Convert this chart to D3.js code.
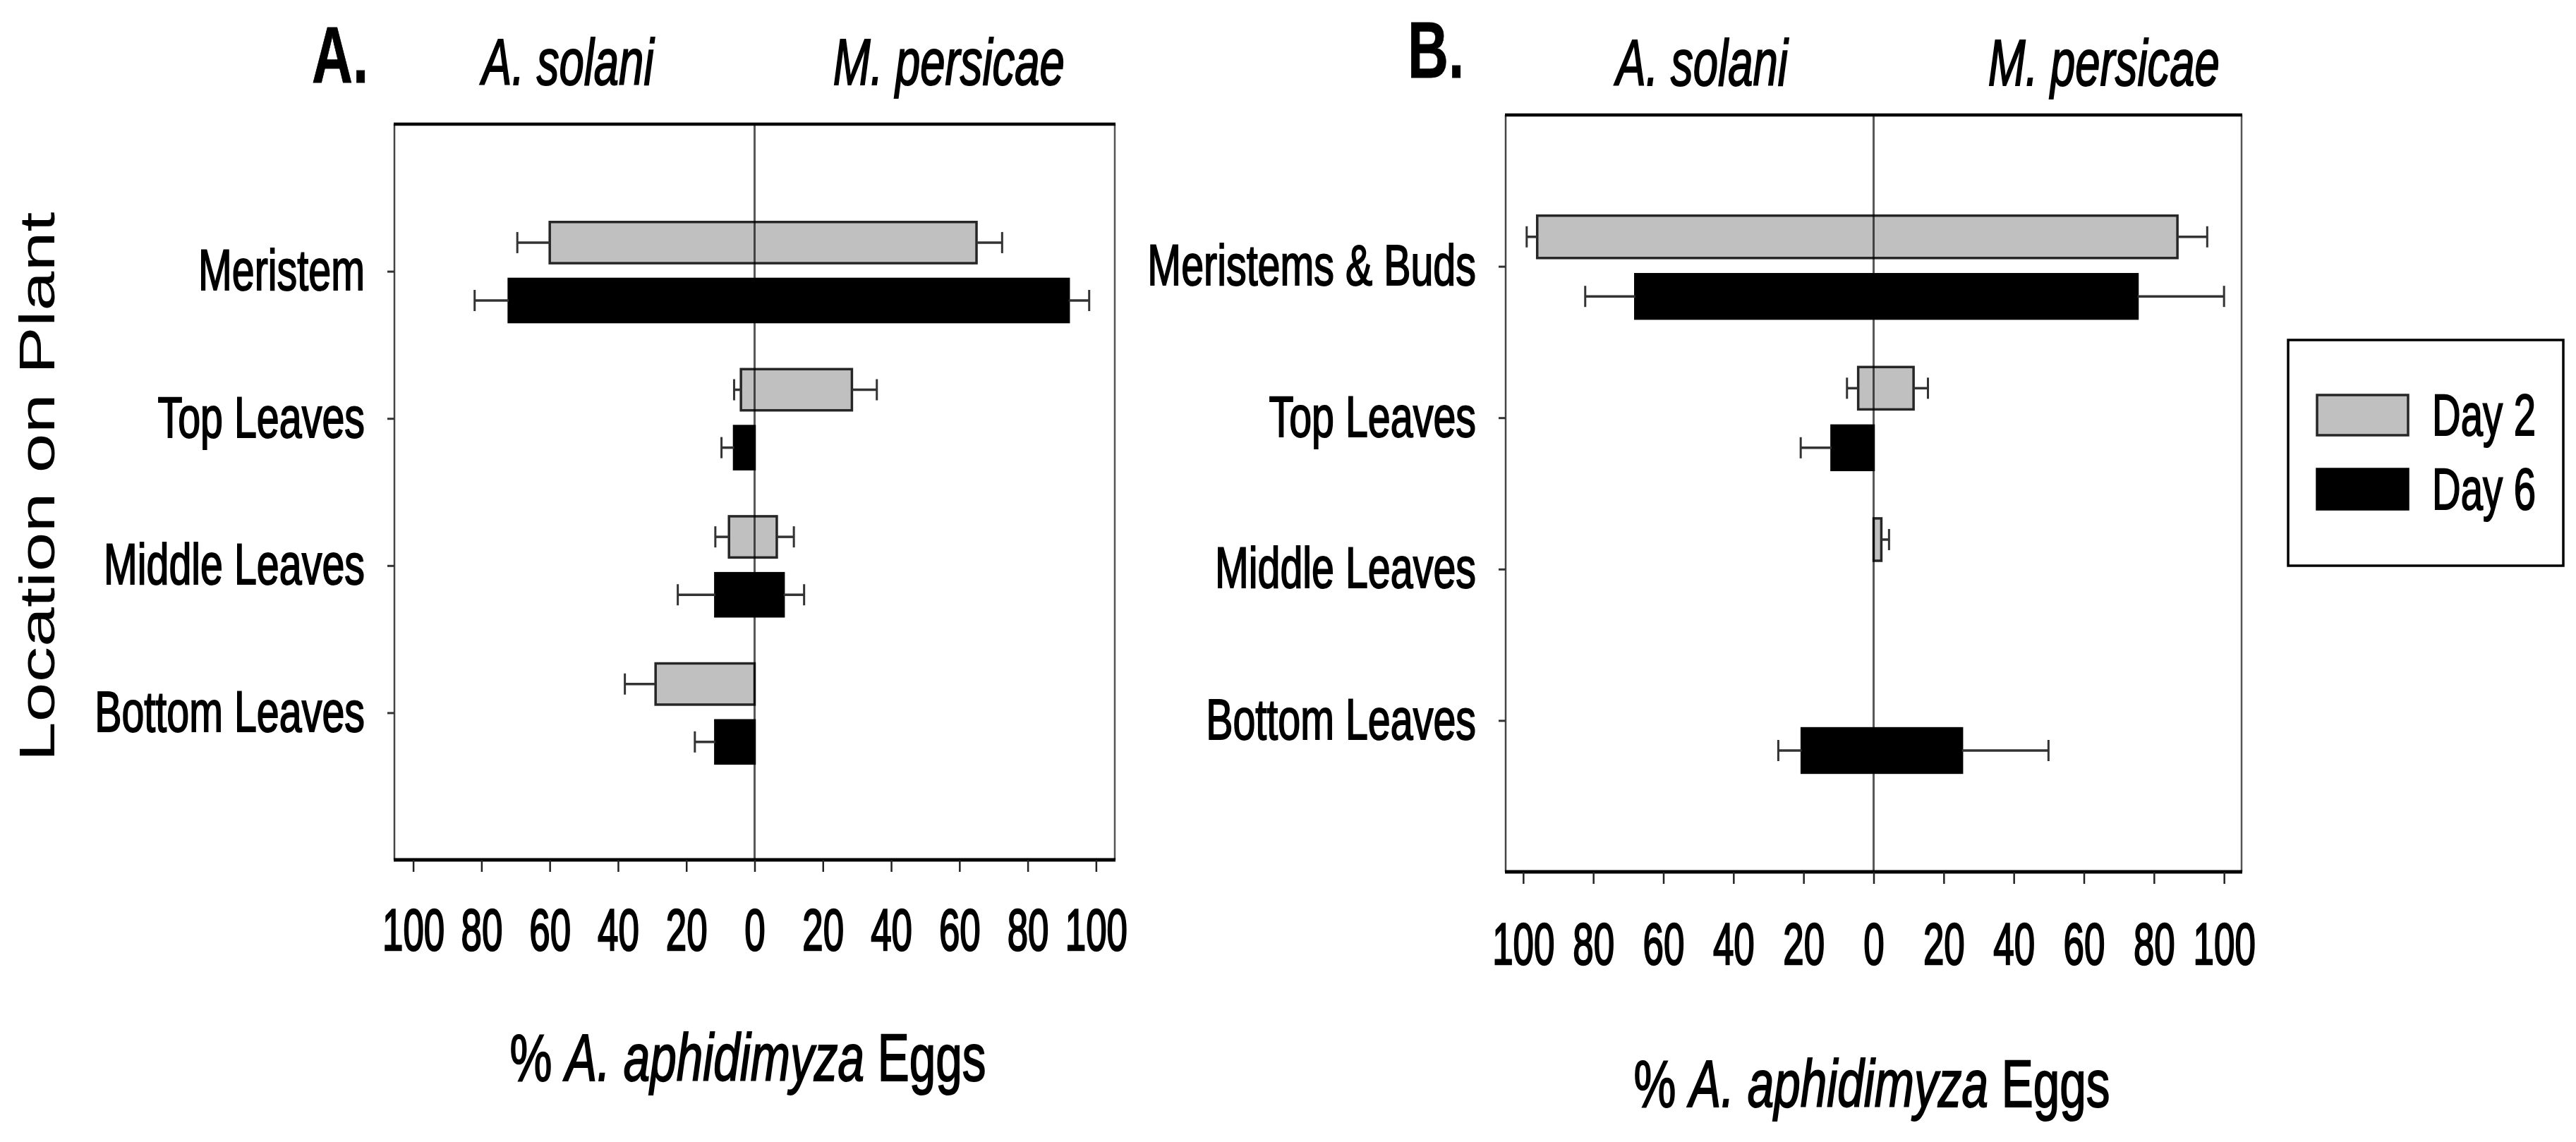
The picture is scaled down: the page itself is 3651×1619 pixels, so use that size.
<!DOCTYPE html>
<html><head><meta charset="utf-8">
<script src="https://cdn.jsdelivr.net/npm/d3@7"></script>
<style>html,body{margin:0;padding:0;background:#fff;} svg{display:block;}</style>
</head><body>
<svg id="chart" width="3651" height="1619"></svg>
<script>
// ---------------- DATA ----------------
const xTicks = [-100, -80, -60, -40, -20, 0, 20, 40, 60, 80, 100];
const catsA = ["Meristem", "Top Leaves", "Middle Leaves", "Bottom Leaves"];
const catsB = ["Meristems & Buds", "Top Leaves", "Middle Leaves", "Bottom Leaves"];
const seriesNames = ["Day 2", "Day 6"];
const hostNames = ["A. solani", "M. persicae"];

// Panel A: % eggs on A. solani side (drawn left), on M. persicae side (drawn right), error bar lengths
const aDay2Solani      = [60, 4, 7.5, 29];
const aDay2SolaniErr   = [9.5, 2, 4, 9];
const aDay2Persicae    = [65, 28.5, 6.5, 0];
const aDay2PersicaeErr = [7.5, 7.3, 5, 0];
const aDay6Solani      = [72, 6, 11.5, 11.5];
const aDay6SolaniErr   = [10, 3.7, 11, 6];
const aDay6Persicae    = [92, 0, 8.5, 0];
const aDay6PersicaeErr = [6, 0, 6, 0];

// Panel B
const bDay2Solani      = [96, 4.4, 0, 0];
const bDay2SolaniErr   = [3, 3.2, 0, 0];
const bDay2Persicae    = [86.7, 11.4, 2.2, 0];
const bDay2PersicaeErr = [8.5, 4.1, 2.2, 0];
const bDay6Solani      = [68, 12, 0, 20.5];
const bDay6SolaniErr   = [14.3, 8.8, 0, 6.7];
const bDay6Persicae    = [75.3, 0, 0, 25.2];
const bDay6PersicaeErr = [24.7, 0, 0, 24.7];

// ---------------- LAYOUT ----------------
const FONT = "'Liberation Sans', Arial, Helvetica, sans-serif";
const seriesFill = ["#c0c0c0", "#000000"];
const seriesStroke = ["#262626", "#000000"];
const seriesOffset = [[-0.335, -0.055], [0.052, 0.345]]; // fraction of band

const panels = [
  { letter: "A.", cats: catsA, left: 559, right: 1580, top: 176, bottom: 1219, dom: 105.5,
    letterX: 442, letterY: 117, hostX: [-54.7, 56.9], hostY: 120,
    titleX: 1060, titleY: 1532, tickLabelOff: 128,
    series: [
      { s: aDay2Solani, se: aDay2SolaniErr, p: aDay2Persicae, pe: aDay2PersicaeErr },
      { s: aDay6Solani, se: aDay6SolaniErr, p: aDay6Persicae, pe: aDay6PersicaeErr } ] },
  { letter: "B.", cats: catsB, left: 2134, right: 3177, top: 163, bottom: 1236, dom: 105,
    letterX: 1995, letterY: 110, hostX: [-49, 65.7], hostY: 121,
    titleX: 2653, titleY: 1569, tickLabelOff: 131,
    series: [
      { s: bDay2Solani, se: bDay2SolaniErr, p: bDay2Persicae, pe: bDay2PersicaeErr },
      { s: bDay6Solani, se: bDay6SolaniErr, p: bDay6Persicae, pe: bDay6PersicaeErr } ] }
];

const svg = d3.select("#chart");
svg.append("rect").attr("width", 3651).attr("height", 1619).attr("fill", "#fff");

function label(g, x, y, str, o) {
  return g.append("text")
    .attr("transform", `translate(${x},${y}) scale(${o.sx},1)`)
    .attr("text-anchor", o.anchor || "start")
    .attr("font-family", FONT)
    .attr("font-size", o.size)
    .attr("font-weight", o.weight || "normal")
    .attr("font-style", o.style || "normal")
    .attr("fill", "#000").attr("stroke", "#000").attr("stroke-width", o.sw == null ? 2 : o.sw)
    .text(str);
}

panels.forEach(P => {
  const g = svg.append("g");
  const x = d3.scaleLinear().domain([-P.dom, P.dom]).range([P.left, P.right]);
  const y = d3.scaleLinear().domain([0, P.cats.length + 1]).range([P.top, P.bottom]);
  const band = y(1) - y(0);

  // bars
  P.series.forEach((S, d) => {
    P.cats.forEach((c, i) => {
      const s = S.s[i], p = S.p[i];
      const yc = y(i + 1);
      const y0 = yc + seriesOffset[d][0] * band;
      const h = (seriesOffset[d][1] - seriesOffset[d][0]) * band;
      const ym = y0 + h / 2;
      if (s + p > 0) {
        g.append("rect")
          .attr("x", x(-s)).attr("width", x(p) - x(-s))
          .attr("y", y0).attr("height", h)
          .attr("fill", seriesFill[d])
          .attr("stroke", seriesStroke[d]).attr("stroke-width", 3.5);
      }
      // [bar end, error length, direction]
      const errs = [[-s, S.se[i], -1], [p, S.pe[i], 1]];
      errs.forEach(([v, e, dir]) => {
        if (e > 0) {
          const xe = x(v + dir * e);
          g.append("line").attr("x1", x(v)).attr("x2", xe)
            .attr("y1", ym).attr("y2", ym)
            .attr("stroke", "#333").attr("stroke-width", 3.5);
          g.append("line").attr("x1", xe).attr("x2", xe)
            .attr("y1", ym - 15).attr("y2", ym + 15)
            .attr("stroke", "#333").attr("stroke-width", 3);
        }
      });
    });
  });

  // zero line
  g.append("line").attr("x1", x(0)).attr("x2", x(0))
    .attr("y1", P.top).attr("y2", P.bottom)
    .attr("stroke", "#000").attr("stroke-opacity", 0.65).attr("stroke-width", 3);

  // frame
  g.append("line").attr("x1", P.left).attr("x2", P.left).attr("y1", P.top).attr("y2", P.bottom)
    .attr("stroke", "#444").attr("stroke-width", 2.5);
  g.append("line").attr("x1", P.right).attr("x2", P.right).attr("y1", P.top).attr("y2", P.bottom)
    .attr("stroke", "#555").attr("stroke-width", 2.5);
  g.append("line").attr("x1", P.left - 1).attr("x2", P.right + 1).attr("y1", P.top).attr("y2", P.top)
    .attr("stroke", "#000").attr("stroke-width", 4.5);
  g.append("line").attr("x1", P.left - 1).attr("x2", P.right + 1).attr("y1", P.bottom).attr("y2", P.bottom)
    .attr("stroke", "#000").attr("stroke-width", 5);

  // x axis
  const xa = g.append("g").attr("transform", `translate(0,${P.bottom})`)
    .call(d3.axisBottom(x).tickValues(xTicks).tickSize(17).tickFormat(d => Math.abs(d)));
  xa.select(".domain").remove();
  xa.selectAll(".tick line").attr("stroke", "#222").attr("stroke-width", 2.5);
  xa.selectAll(".tick text")
    .attr("y", null).attr("dy", null)
    .attr("transform", `translate(0,${P.tickLabelOff}) scale(0.63,1)`)
    .attr("font-family", FONT).attr("font-size", 84).attr("fill", "#000")
    .attr("stroke", "#000").attr("stroke-width", 2.5);

  // y axis
  const ya = g.append("g").attr("transform", `translate(${P.left},0)`)
    .call(d3.axisLeft(y).tickValues(P.cats.map((c, i) => i + 1)).tickSize(10)
      .tickFormat(d => P.cats[d - 1]));
  ya.select(".domain").remove();
  ya.selectAll(".tick line").attr("stroke", "#333").attr("stroke-width", 3);
  ya.selectAll(".tick text")
    .attr("x", null).attr("dy", null)
    .attr("transform", `translate(-42,26) scale(0.70,1)`)
    .attr("text-anchor", "end")
    .attr("font-family", FONT).attr("font-size", 82).attr("fill", "#000")
    .attr("stroke", "#000").attr("stroke-width", 2);

  // panel letter and host titles
  label(g, P.letterX, P.letterY, P.letter, { size: 113, sx: 0.71, weight: "bold", sw: 1 });
  hostNames.forEach((h, k) => {
    label(g, x(P.hostX[k]), P.hostY, h, { size: 92, sx: 0.69, style: "italic", anchor: "middle" });
  });

  // x title
  const xt = g.append("text")
    .attr("transform", `translate(${P.titleX},${P.titleY}) scale(0.71,1)`)
    .attr("text-anchor", "middle").attr("font-family", FONT).attr("font-size", 95).attr("fill", "#000")
    .attr("stroke", "#000").attr("stroke-width", 2);
  xt.append("tspan").text("% ");
  xt.append("tspan").attr("font-style", "italic").text("A. aphidimyza");
  xt.append("tspan").text(" Eggs");
});

// y axis title
svg.append("text")
  .attr("transform", "translate(77,690) rotate(-90) scale(1.44,1)")
  .attr("text-anchor", "middle").attr("font-family", FONT).attr("font-size", 70).attr("fill", "#000")
  .text("Location on Plant");

// legend
const lg = svg.append("g");
lg.append("rect").attr("x", 3243).attr("y", 482).attr("width", 390).attr("height", 320)
  .attr("fill", "#fff").attr("stroke", "#000").attr("stroke-width", 3.5);
seriesNames.forEach((n, k) => {
  const yy = 560 + k * 105;
  lg.append("rect").attr("x", 3284).attr("y", yy).attr("width", 129).attr("height", 57)
    .attr("fill", seriesFill[k]).attr("stroke", seriesStroke[k]).attr("stroke-width", 3.5);
  label(lg, 3447, yy + 57, n, { size: 84, sx: 0.67 });
});
</script>
</body></html>
